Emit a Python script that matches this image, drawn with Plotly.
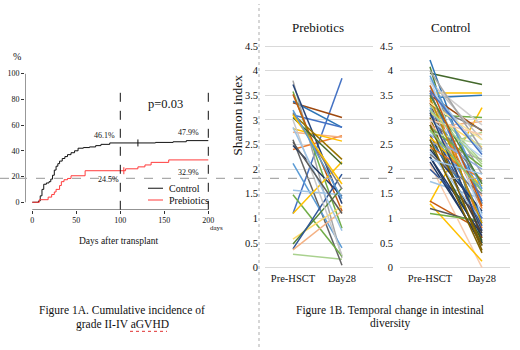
import plotly.graph_objects as go

W, H = 520, 350
def px(x): return x / W
def py(y): return 1 - y / H

# ---- Figure 1A data: cumulative incidence (%) ----
ctrl_days = [0, 7, 9, 11, 13, 16, 19, 21, 23, 25, 27, 29, 31, 34, 37, 40, 44, 48, 52, 58, 65, 72, 78, 88, 140, 160, 175, 200]
ctrl_vals = [0, 1, 5, 10, 14, 15, 16, 18, 21, 25, 28, 30, 32, 34, 35.5, 37, 38.5, 40, 42, 42.5, 43, 44, 45, 46.1, 46.5, 47, 47.9, 47.9]
preb_days = [0, 8, 18, 22, 25, 27, 31, 33, 36, 40, 44, 60, 106, 120, 128, 135, 155, 200]
preb_vals = [0, 2, 4, 6, 8, 10, 13, 16, 17.5, 18.5, 20.6, 24.5, 26, 27.5, 29, 31, 32.9, 32.9]
ctrl_censor_days = [120]
ctrl_censor_vals = [46.1]
preb_censor_days = [104]
preb_censor_vals = [24.5]
ci_yticks = [0, 20, 40, 60, 80, 100]
ci_xticks = [0, 50, 100, 150, 200]
legend_names = ["Control", "Prebiotics"]
legend_colors = ["#111111", "#FF3B3B"]

# ---- Figure 1B data: Shannon index (Pre-HSCT, Day28) ----
timepoints = ["Pre-HSCT", "Day28"]
preb_pre = [1.10, 0.27, 3.35, 3.38, 3.10, 2.40, 2.75, 2.82, 3.80, 3.72, 3.58, 3.52, 2.60, 2.48, 2.12,
            1.57, 1.48, 1.10, 0.58, 0.48, 0.38, 0.36, 3.12, 3.05, 3.00, 3.15, 2.85, 3.10, 2.55, 3.20]
preb_d28 = [3.85, 0.17, 3.05, 2.85, 2.85, 2.68, 2.65, 2.57, 0.20, 1.30, 0.80, 1.15, 0.05, 1.45, 0.40,
            1.48, 0.23, 2.15, 1.25, 1.62, 1.90, 1.15, 2.20, 2.10, 0.25, 1.60, 0.75, 1.70, 1.10, 1.40]
preb_colors = ["#4472C4", "#A9D18E", "#9E480E", "#2E75B6", "#4472C4", "#ED7D31", "#F4B183", "#FFC000",
               "#A5A5A5", "#264478", "#70AD47", "#C55A11", "#636363", "#1F3864", "#5B9BD5",
               "#9DC3E6", "#70AD47", "#FFC000", "#FFD966", "#548235", "#2F5597", "#F4B183", "#997300",
               "#43682B", "#C9C9C9", "#7F7F7F", "#9DC3E6", "#FFC000", "#595959", "#5B9BD5"]

ctrl_pre = [3.95, 4.22, 4.08, 3.55, 3.45, 1.33, 3.10, 2.85, 3.50, 3.30, 2.40, 2.10, 1.30, 1.35, 1.20,
            1.10, 1.75, 2.15, 2.25, 2.00, 3.80, 3.70, 3.65, 3.60, 3.40, 3.35, 3.30, 3.25, 3.20, 3.15,
            3.10, 3.05, 3.00, 2.95, 2.90, 2.85, 2.80, 2.75, 2.70, 2.65, 2.60, 2.55, 2.50, 2.45, 2.40,
            2.35, 2.30, 2.25, 3.85, 3.75, 3.55, 3.45, 3.90, 4.00, 3.35, 3.00, 2.70, 2.90, 3.50, 3.20,
            2.60, 3.70, 2.20, 3.15, 2.80, 3.60]
ctrl_d28 = [3.72, 1.30, 0.50, 3.55, 3.50, 3.25, 3.05, 2.97, 2.78, 2.80, 2.75, 0.00, 0.13, 0.75, 0.90,
            0.95, 1.40, 0.50, 0.45, 1.00, 2.60, 1.90, 2.35, 0.80, 1.20, 0.60, 2.15, 1.55, 1.00, 2.45,
            1.75, 0.35, 2.25, 1.45, 0.85, 2.05, 1.30, 2.50, 0.70, 1.65, 1.10, 2.20, 0.55, 1.80, 1.15,
            0.95, 1.50, 0.65, 1.05, 2.90, 1.35, 0.90, 1.60, 2.40, 2.60, 2.70, 2.00, 0.45, 1.70, 2.10,
            0.30, 1.25, 1.90, 0.75, 1.55, 2.30]
ctrl_colors = ["#43682B", "#2E75B6", "#548235", "#FFC000", "#2E75B6", "#FFC000", "#70AD47", "#F4B183",
               "#9E480E", "#7F7F7F", "#A9D18E", "#F8CBAD", "#FFC000", "#C55A11", "#595959",
               "#70AD47", "#9DC3E6", "#1F3864", "#203864", "#2F5597", "#BFBFBF", "#A5A5A5", "#9DC3E6",
               "#ED7D31", "#ED7D31", "#843C0C", "#A9D18E", "#5B9BD5", "#4472C4", "#FFD966",
               "#7F7F7F", "#7F6000", "#BDD7EE", "#F4B183", "#2F5597", "#70AD47", "#5B9BD5", "#C5E0B4",
               "#404040", "#FFC000", "#2E75B6", "#A5A5A5", "#385723", "#ED7D31", "#203864",
               "#9DC3E6", "#7F7F7F", "#1F3864", "#BDD7EE", "#D0CECE", "#4472C4", "#BF9000",
               "#5B9BD5", "#A5A5A5", "#FFE699", "#F8CBAD", "#8FAADC", "#806000", "#548235", "#A9D18E",
               "#7F6000", "#C55A11", "#9DC3E6", "#264478", "#8CC168", "#4472C4"]

SERIF = "Liberation Serif"
fig = go.Figure()

# Figure 1A traces
fig.add_trace(go.Scatter(x=ctrl_days, y=ctrl_vals, mode="lines", line=dict(color=legend_colors[0], width=1, shape="hv"),
                         name=legend_names[0], xaxis="x", yaxis="y", showlegend=False))
fig.add_trace(go.Scatter(x=preb_days, y=preb_vals, mode="lines", line=dict(color=legend_colors[1], width=1, shape="hv"),
                         name=legend_names[1], xaxis="x", yaxis="y", showlegend=False))
fig.add_trace(go.Scatter(x=ctrl_censor_days, y=ctrl_censor_vals, mode="markers",
                         marker=dict(symbol="line-ns", size=5, line=dict(color=legend_colors[0], width=1)),
                         xaxis="x", yaxis="y", showlegend=False))
fig.add_trace(go.Scatter(x=preb_censor_days, y=preb_censor_vals, mode="markers",
                         marker=dict(symbol="line-ns", size=5, line=dict(color=legend_colors[1], width=1)),
                         xaxis="x", yaxis="y", showlegend=False))

# Figure 1B traces
for a, b, c in zip(preb_pre, preb_d28, preb_colors):
    fig.add_trace(go.Scatter(x=timepoints, y=[a, b], mode="lines", line=dict(color=c, width=1.5),
                             xaxis="x2", yaxis="y2", showlegend=False, hoverinfo="skip"))
for a, b, c in zip(ctrl_pre, ctrl_d28, ctrl_colors):
    fig.add_trace(go.Scatter(x=timepoints, y=[a, b], mode="lines", line=dict(color=c, width=1.5),
                             xaxis="x3", yaxis="y3", showlegend=False, hoverinfo="skip"))

sh_ticks = [0, 0.5, 1, 1.5, 2, 2.5, 3, 3.5, 4, 4.5]
sh_text = ["0", "0.5", "1", "1.5", "2", "2.5", "3", "3.5", "4", "4.5"]

x_lo, x_hi = -8.3, 207.6
y_lo, y_hi = -5.86, 100.0
fig.update_layout(
    width=W, height=H, margin=dict(l=0, r=0, t=0, b=0),
    paper_bgcolor="white", plot_bgcolor="rgba(0,0,0,0)",
    font=dict(family=SERIF, color="#111111"),
    showlegend=False,
    xaxis=dict(domain=[px(25), px(215)], range=[x_lo, x_hi], tickvals=ci_xticks, showgrid=False, zeroline=False,
               showline=False, ticks="outside", ticklen=3, tickcolor="#333", tickfont=dict(size=8, family=SERIF), anchor="y"),
    yaxis=dict(domain=[py(210), py(71)], range=[y_lo, y_hi], tickvals=ci_yticks, showgrid=False, zeroline=False,
               showline=False, ticks="outside", ticklen=3, tickcolor="#333", tickfont=dict(size=8, family=SERIF), anchor="x"),
    xaxis2=dict(domain=[px(265), px(373)], range=[-0.571, 1.633], type="category", showgrid=False,
                zeroline=False, showline=False, ticks="", tickfont=dict(size=10.5, family=SERIF), anchor="y2"),
    yaxis2=dict(domain=[py(272), py(40)], range=[-0.06, 4.56], tickvals=sh_ticks, ticktext=sh_text,
                showgrid=True, gridcolor="#D9D9D9", gridwidth=1, zeroline=False, showline=False,
                tickfont=dict(size=10.5, family=SERIF), ticklabelstandoff=6, anchor="x2"),
    xaxis3=dict(domain=[px(400), px(510)], range=[-0.577, 1.538], type="category", showgrid=False,
                zeroline=False, showline=False, ticks="", tickfont=dict(size=10.5, family=SERIF), anchor="y3"),
    yaxis3=dict(domain=[py(272), py(40)], range=[-0.06, 4.56], tickvals=sh_ticks, ticktext=sh_text,
                showgrid=True, gridcolor="#D9D9D9", gridwidth=1, zeroline=False, showline=False,
                tickfont=dict(size=10.5, family=SERIF), ticklabelstandoff=6, anchor="x3"),
)

shapes = [
    # axis lines (R style)
    dict(type="line", xref="x", yref="y", x0=0, x1=200, y0=y_lo, y1=y_lo, line=dict(color="#333", width=1)),
    dict(type="line", xref="x", yref="y", x0=x_lo, x1=x_lo, y0=0, y1=100, line=dict(color="#333", width=1)),
    # landmark dashed lines
    dict(type="line", xref="x", yref="y", x0=100, x1=100, y0=y_lo, y1=85.5, line=dict(color="#111", width=1, dash="dash")),
    dict(type="line", xref="x", yref="y", x0=200, x1=200, y0=y_lo, y1=91, line=dict(color="#111", width=1, dash="dash")),
    # page separators
    dict(type="line", xref="paper", yref="paper", x0=0, x1=1, y0=py(178), y1=py(178),
         line=dict(color="#AAAAAA", width=1.2, dash="dash")),
    dict(type="line", xref="paper", yref="paper", x0=px(259), x1=px(259), y0=0, y1=1,
         line=dict(color="#BBBBBB", width=1.2, dash="dot")),
    # spellcheck squiggle under aGVHD
    dict(type="line", xref="paper", yref="paper", x0=px(130), x1=px(167), y0=py(334), y1=py(334),
         line=dict(color="#E03030", width=1, dash="dot")),
]
# legend keys
for i, c in enumerate(legend_colors):
    yy = 188 + 12 * i
    shapes.append(dict(type="line", xref="paper", yref="paper", x0=px(148), x1=px(163), y0=py(yy), y1=py(yy),
                       line=dict(color=c, width=1)))
fig.update_layout(shapes=shapes)

def ann(x, y, text, size, **kw):
    d = dict(x=px(x), y=py(y), xref="paper", yref="paper", text=text, showarrow=False,
             font=dict(size=size, family=SERIF, color="#111111"), xanchor="center", yanchor="middle")
    d.update(kw)
    return d

anns = [
    ann(17, 54, "%", 10),
    ann(165, 102, "p=0.03", 12.5),
    ann(104, 134, "46.1%", 8),
    ann(188, 131, "47.9%", 8),
    ann(108, 179, "24.5%", 8),
    ann(188, 172, "32.9%", 8),
    ann(216, 229, "days", 7),
    ann(118, 242, "Days after transplant", 9.5),
    ann(122, 313, "Figure 1A. Cumulative incidence of", 11.5),
    ann(122, 327, "grade II-IV aGVHD", 11.5),
    ann(318, 24, "Prebiotics", 13),
    ann(451, 24, "Control", 13),
    ann(238, 114, "Shannon index", 13.5, textangle=-90),
    ann(390, 313, "Figure 1B. Temporal change in intestinal", 11.5),
    ann(390, 326, "diversity", 11.5),
]
for i, name in enumerate(legend_names):
    anns.append(ann(167, 188 + 12 * i, name, 10, xanchor="left"))
fig.update_layout(annotations=anns)

fig.write_html("out.html", config={"displayModeBar": False},
               post_script="document.body.style.margin='0';document.body.style.overflow='hidden';")
